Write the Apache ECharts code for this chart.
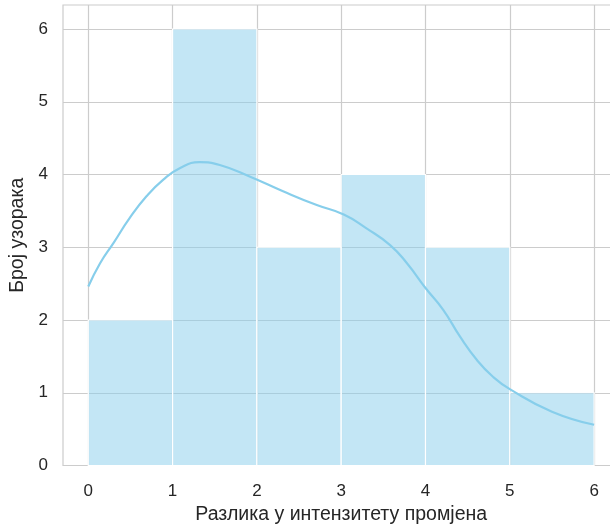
<!DOCTYPE html>
<html>
<head>
<meta charset="utf-8">
<script src="https://cdn.jsdelivr.net/npm/echarts@6/dist/echarts.min.js"></script>
<style>html,body{margin:0;padding:0;background:#fff}#c{width:610px;height:527px}</style>
</head>
<body>
<div id="c"></div>
<script>
// Histogram bins
const binEdges = [0, 1, 2, 3, 4, 5, 6];
const binCounts = [2, 6, 3, 4, 3, 1];
// KDE curve
const kdeX = [0, 0.14, 0.30, 0.49, 0.69, 0.89, 1.09, 1.32, 1.56, 1.92, 2.31, 2.71, 3.03, 3.30, 3.58, 3.78, 4.00, 4.21, 4.41, 4.61, 4.80, 5.00, 5.5, 6];
const kdeY = [2.46, 2.78, 3.06, 3.40, 3.70, 3.93, 4.09, 4.17, 4.13, 3.97, 3.77, 3.58, 3.45, 3.26, 3.03, 2.78, 2.44, 2.14, 1.77, 1.45, 1.22, 1.05, 0.74, 0.56];
// Tick labels
const xTicks = [0, 1, 2, 3, 4, 5, 6];
const yTicks = [0, 1, 2, 3, 4, 5, 6];
const xName = 'Разлика у интензитету промјена';
const yName = 'Број узорака';

const barData = binCounts.map((c, i) => [binEdges[i], binEdges[i + 1], c]);
const kdeData = kdeX.map((x, i) => [x, kdeY[i]]);

const chart = echarts.init(document.getElementById('c'), null, {renderer: 'canvas'});
const txt = '#262626';
chart.setOption({
  animation: false,
  backgroundColor: '#fff',
  grid: {left: 63, top: 5, bottom: 61.5, width: 556.4, containLabel: false, outerBoundsMode: 'none', show: true, borderColor: '#cccccc', borderWidth: 1.2, backgroundColor: 'transparent'},
  xAxis: {
    type: 'value', min: -0.3, max: 6.3,
    name: xName, nameLocation: 'middle', nameGap: 36,
    nameTextStyle: {fontFamily: 'Liberation Sans', fontSize: 19.5, color: txt},
    axisLine: {show: false},
    axisTick: {show: false, customValues: xTicks},
    axisLabel: {customValues: xTicks, fontFamily: 'Liberation Sans', fontSize: 17, color: txt, margin: 17},
    splitLine: {show: true, lineStyle: {color: '#cccccc', width: 1.2}}
  },
  yAxis: {
    type: 'value', min: 0, max: 6.33,
    name: yName, nameLocation: 'middle', nameGap: 30, nameRotate: 90,
    nameTextStyle: {fontFamily: 'Liberation Sans', fontSize: 19.5, color: txt},
    axisLine: {show: false},
    axisTick: {show: false, customValues: yTicks},
    axisLabel: {customValues: yTicks, fontFamily: 'Liberation Sans', fontSize: 17, color: txt, margin: 15},
    splitLine: {show: true, lineStyle: {color: '#cccccc', width: 1.2}}
  },
  series: [
    {
      type: 'custom',
      data: barData,
      renderItem: function (params, api) {
        const p0 = api.coord([api.value(0), 0]);
        const p1 = api.coord([api.value(1), api.value(2)]);
        return {
          type: 'rect',
          shape: {x: p0[0], y: p1[1], width: p1[0] - p0[0], height: p0[1] - p1[1]},
          style: {fill: 'rgba(135,206,235,0.5)', stroke: '#ffffff', lineWidth: 1.2}
        };
      },
      z: 2
    },
    {
      type: 'line',
      data: kdeData,
      smooth: 0.5,
      symbol: 'none',
      lineStyle: {color: '#87ceeb', width: 2.2},
      z: 3
    }
  ]
});
</script>
</body>
</html>
